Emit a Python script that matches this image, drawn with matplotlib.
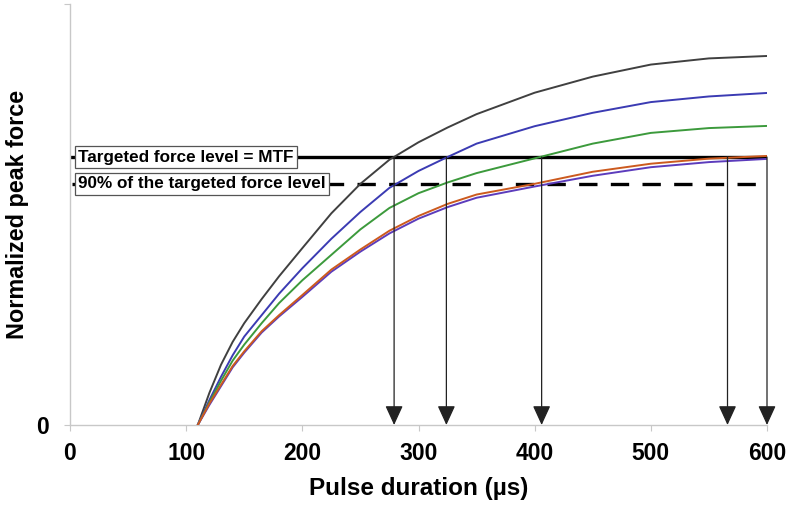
"""
Normalized peak force vs pulse duration, with targeted force level (MTF)
and 90% level, arrows marking where each curve reaches the MTF.
"""
import matplotlib
matplotlib.use('Agg')
import matplotlib.pyplot as plt

plt.rcParams['font.family'] = ['Liberation Sans', 'DejaVu Sans']
plt.rcParams['font.weight'] = 'bold'

# pulse duration (us) sample points
PULSE = [110, 120, 130, 140, 150, 165, 180, 200, 225, 250, 275, 300, 325, 350, 400, 450, 500, 550, 600]

# normalized peak force (MTF = 1)
FORCE_GRAY = [0, 0.12, 0.225, 0.31, 0.38, 0.47, 0.555, 0.66, 0.79, 0.90, 0.99, 1.055, 1.11, 1.16,
              1.24, 1.30, 1.345, 1.368, 1.377]
FORCE_BLUE = [0, 0.093, 0.18, 0.26, 0.33, 0.41, 0.49, 0.585, 0.695, 0.795, 0.885, 0.948, 1.0, 1.05,
              1.115, 1.165, 1.205, 1.226, 1.239]
FORCE_GREEN = [0, 0.085, 0.165, 0.24, 0.30, 0.38, 0.455, 0.54, 0.635, 0.73, 0.81, 0.865, 0.905, 0.94,
               0.995, 1.05, 1.09, 1.108, 1.116]
FORCE_ORANGE = [0, 0.08, 0.15, 0.22, 0.275, 0.35, 0.41, 0.485, 0.58, 0.655, 0.725, 0.78, 0.825, 0.86,
                0.90, 0.945, 0.975, 0.994, 1.004]
FORCE_PURPLE = [0, 0.075, 0.145, 0.215, 0.27, 0.345, 0.405, 0.478, 0.572, 0.647, 0.715, 0.77, 0.813, 0.848,
                0.89, 0.93, 0.962, 0.981, 0.993]

CURVES = [
    (FORCE_GRAY, '#404040'),
    (FORCE_BLUE, '#3b3bb3'),
    (FORCE_GREEN, '#3c9a3c'),
    (FORCE_PURPLE, '#5c3cbc'),
    (FORCE_ORANGE, '#cc5a1e'),
]

MTF = 1.0
LEVEL_90 = 0.9
# pulse durations where each curve reaches the MTF
ARROW_X = [279, 324, 406, 566, 600]

XTICKS = [0, 100, 200, 300, 400, 500, 600]
Y_TOP = 1.571

fig = plt.figure(figsize=(7.9, 5.16), dpi=100)
ax = fig.add_axes([70 / 790, 1 - 425 / 516, 697 / 790, 421 / 516])

for force, color in CURVES:
    ax.plot(PULSE, force, color=color, linewidth=1.4, zorder=3,
            solid_joinstyle='round')

ax.plot([2, 600], [MTF, MTF], color='black', linewidth=2.4, zorder=2)
ax.plot([2, 600], [LEVEL_90, LEVEL_90], color='black', linewidth=2.4,
        linestyle=(0, (5.5, 4)), zorder=2)

for x in ARROW_X:
    ax.annotate('', xy=(x, 0), xytext=(x, MTF),
                arrowprops=dict(arrowstyle='-|>,head_length=1.2,head_width=0.55',
                                mutation_scale=10, color='#222222', lw=0.9,
                                shrinkA=0, shrinkB=0), zorder=4)

box = dict(boxstyle='square,pad=0.2', facecolor='white', edgecolor='#555555', linewidth=0.9)
ax.text(7, MTF, 'Targeted force level = MTF', fontsize=12.3, fontweight='bold',
        ha='left', va='center', bbox=box, zorder=5)
ax.text(7, LEVEL_90, '90% of the targeted force level', fontsize=12.3, fontweight='bold',
        ha='left', va='center', bbox=box, zorder=5)

ax.set_xlim(0, 600)
ax.set_ylim(0, Y_TOP)
ax.set_xticks(XTICKS)
ax.set_yticks([0, Y_TOP])
ax.set_yticklabels(['0', ''])

for side in ['top', 'right']:
    ax.spines[side].set_visible(False)
for side in ['left', 'bottom']:
    ax.spines[side].set_color('#c8c8c8')
    ax.spines[side].set_linewidth(1.0)

ax.tick_params(axis='both', direction='out', length=4, color='#c8c8c8', labelsize=16.5)
ax.tick_params(axis='x', pad=8)
ax.tick_params(axis='y', pad=11)

ax.set_xlabel('Pulse duration (µs)', fontsize=17.5, fontweight='bold', labelpad=9)
ax.set_ylabel('Normalized peak force', fontsize=16.8, fontweight='bold', labelpad=5)

plt.savefig('out.png', dpi=100)
